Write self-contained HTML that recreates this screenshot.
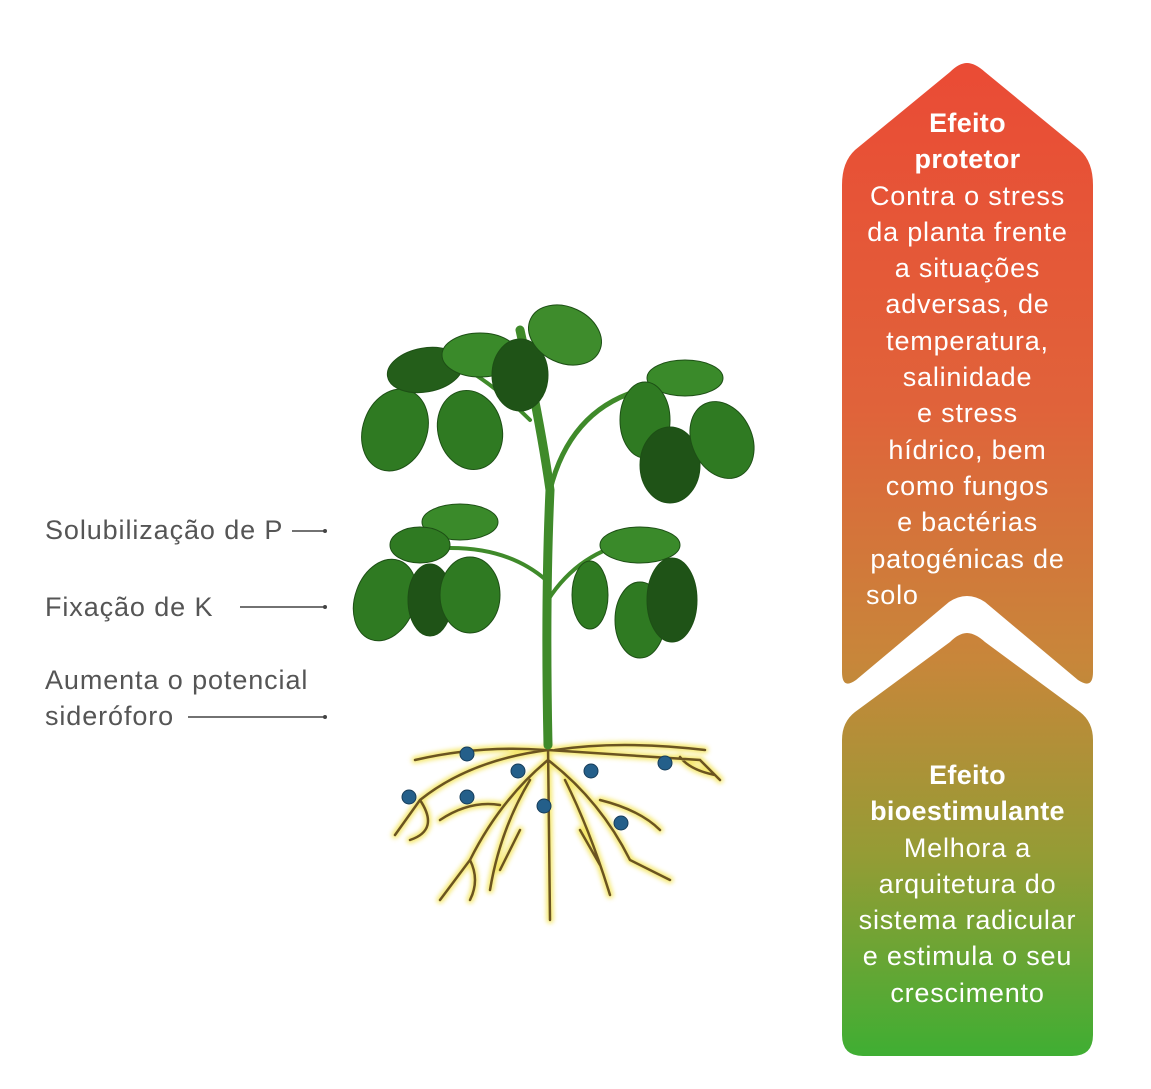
<!DOCTYPE html>
<html><head><meta charset="utf-8"><style>
body{margin:0;background:#fff;width:1151px;height:1089px;overflow:hidden;position:relative;font-family:"Liberation Sans",sans-serif}
.lbl{position:absolute;color:#555;font-size:27px;letter-spacing:0.9px;line-height:36px;white-space:nowrap}
.t{position:absolute;left:832px;width:271px;text-align:center;color:#fff;font-size:27px;letter-spacing:0.8px;line-height:36.3px;white-space:nowrap}
b{font-weight:bold;letter-spacing:0.3px}
</style></head><body>
<svg width="1151" height="1089" style="position:absolute;left:0;top:0">
<defs>
<linearGradient id="g" x1="0" y1="63" x2="0" y2="1056" gradientUnits="userSpaceOnUse">
<stop offset="0" stop-color="#ea4b35"/><stop offset="0.35" stop-color="#e0633a"/>
<stop offset="0.6" stop-color="#c8863a"/><stop offset="0.8" stop-color="#949c35"/>
<stop offset="1" stop-color="#3fae33"/></linearGradient>
<filter id="glow"><feGaussianBlur stdDeviation="2.5"/></filter>
</defs>
<path d="M967,63 Q975,63 985,72 L1080,150 Q1093,162 1093,185 L1093,672 Q1093,690 1078,680 L985,602 Q967,590 949,602 L856,680 Q842,690 842,672 L842,185 Q842,162 855,150 L950,72 Q959,63 967,63Z" fill="url(#g)"/>
<path d="M967,633 Q975,633 985,642 L1080,712 Q1093,722 1093,740 L1093,1035 Q1093,1056 1072,1056 L863,1056 Q842,1056 842,1035 L842,740 Q842,722 855,712 L950,642 Q959,633 967,633Z" fill="url(#g)"/>
<g stroke="#444" stroke-width="1.5"><line x1="292" y1="531" x2="325" y2="531"/><line x1="240" y1="607" x2="325" y2="607"/><line x1="188" y1="717" x2="325" y2="717"/></g>
<g fill="#444"><circle cx="325" cy="531" r="2"/><circle cx="325" cy="607" r="2"/><circle cx="325" cy="717" r="2"/></g>
<g fill="none" stroke-linecap="round">
<g stroke="#f3e24a" stroke-width="7" filter="url(#glow)" opacity=".8">
<path id="r" d="M548,745 L550,920 M548,760 Q500,800 470,860 L440,900 M548,760 Q600,800 630,860 L670,880 M548,750 Q470,760 420,800 L395,835 M548,750 Q620,755 700,760 L720,780 M545,750 Q480,745 415,760 M555,750 Q620,740 705,750 M530,780 Q500,830 490,890 M565,780 Q590,830 610,895 M470,860 Q480,880 470,900 M500,805 Q470,800 440,820 M600,800 Q640,810 660,830 M420,800 Q440,830 410,840 M680,757 Q690,770 715,775 M520,830 L500,870 M580,830 L600,865"/></g>
<g stroke="#6b5420" stroke-width="2.5">
<path d="M548,745 L550,920 M548,760 Q500,800 470,860 L440,900 M548,760 Q600,800 630,860 L670,880 M548,750 Q470,760 420,800 L395,835 M548,750 Q620,755 700,760 L720,780 M545,750 Q480,745 415,760 M555,750 Q620,740 705,750 M530,780 Q500,830 490,890 M565,780 Q590,830 610,895 M470,860 Q480,880 470,900 M500,805 Q470,800 440,820 M600,800 Q640,810 660,830 M420,800 Q440,830 410,840 M680,757 Q690,770 715,775 M520,830 L500,870 M580,830 L600,865"/></g>
</g>
<g fill="#245f8a" stroke="#173d5a"><circle cx="467" cy="754" r="7"/><circle cx="518" cy="771" r="7"/><circle cx="591" cy="771" r="7"/><circle cx="665" cy="763" r="7"/><circle cx="409" cy="797" r="7"/><circle cx="467" cy="797" r="7"/><circle cx="544" cy="806" r="7"/><circle cx="621" cy="823" r="7"/></g>
<g fill="none" stroke="#3f8a2a" stroke-linecap="round">
<path d="M548,745 Q545,600 550,490 Q540,420 520,330" stroke-width="9"/>
<path d="M550,490 Q570,410 640,390" stroke-width="5"/>
<path d="M530,420 Q490,380 450,360" stroke-width="4"/>
<path d="M546,580 Q500,540 420,550" stroke-width="4"/>
<path d="M548,600 Q580,550 640,540" stroke-width="4"/>
</g>
<g fill="#2f7a22" stroke="#1d4f15" stroke-width="1">
<ellipse cx="395" cy="430" rx="32" ry="42" transform="rotate(20 395 430)"/>
<ellipse cx="470" cy="430" rx="32" ry="40" transform="rotate(-15 470 430)"/>
<ellipse cx="425" cy="370" rx="38" ry="22" transform="rotate(-10 425 370)" fill="#245e1a"/>
<ellipse cx="480" cy="355" rx="38" ry="22" fill="#3a8a2a"/>
<ellipse cx="520" cy="375" rx="28" ry="36" fill="#1f5317"/>
<ellipse cx="565" cy="335" rx="38" ry="28" transform="rotate(25 565 335)" fill="#3e8c2c"/>
<ellipse cx="685" cy="378" rx="38" ry="18" fill="#3a8a2a"/>
<ellipse cx="645" cy="420" rx="25" ry="38" fill="#2f7a22"/>
<ellipse cx="670" cy="465" rx="30" ry="38" fill="#1f5317"/>
<ellipse cx="722" cy="440" rx="30" ry="40" transform="rotate(-25 722 440)"/>
<ellipse cx="460" cy="522" rx="38" ry="18" fill="#3a8a2a"/>
<ellipse cx="420" cy="545" rx="30" ry="18" fill="#2f7a22"/>
<ellipse cx="385" cy="600" rx="30" ry="42" transform="rotate(20 385 600)"/>
<ellipse cx="430" cy="600" rx="22" ry="36" fill="#1f5317"/>
<ellipse cx="470" cy="595" rx="30" ry="38"/>
<ellipse cx="640" cy="545" rx="40" ry="18" fill="#3a8a2a"/>
<ellipse cx="590" cy="595" rx="18" ry="34"/>
<ellipse cx="640" cy="620" rx="25" ry="38"/>
<ellipse cx="672" cy="600" rx="25" ry="42" fill="#1f5317"/>
</g>
</svg>
<div class="lbl" style="left:45px;top:512px">Solubilização de P</div>
<div class="lbl" style="left:45px;top:589px">Fixação de K</div>
<div class="lbl" style="left:45px;top:662px">Aumenta o potencial<br>sideróforo</div>
<div class="t" style="top:105px"><b>Efeito<br>protetor</b><br>Contra o stress<br>da planta frente<br>a situações<br>adversas, de<br>temperatura,<br>salinidade<br>e stress<br>hídrico, bem<br>como fungos<br>e bactérias<br>patogénicas de<br><span style="display:block;text-align:left;padding-left:34px">solo</span></div>
<div class="t" style="top:757px"><b>Efeito<br>bioestimulante</b><br>Melhora a<br>arquitetura do<br>sistema radicular<br>e estimula o seu<br>crescimento</div>
</body></html>
